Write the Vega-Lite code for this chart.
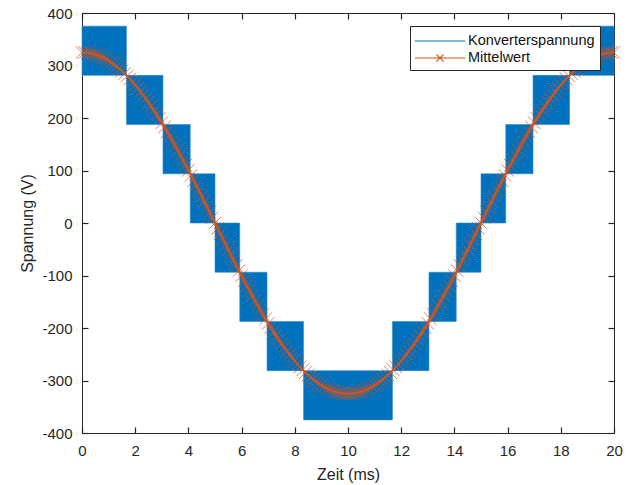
{
  "$schema": "https://vega.github.io/schema/vega-lite/v6.json",
  "width": 532,
  "height": 420,
  "autosize": {"type": "none"},
  "padding": {"left": 82, "top": 13, "right": 13, "bottom": 52},
  "background": "white",
  "config": {
    "font": "Liberation Sans",
    "view": {"stroke": "#262626", "strokeWidth": 1},
    "axis": {
      "domainColor": "#262626",
      "tickColor": "#262626",
      "labelColor": "#262626",
      "titleColor": "#262626",
      "labelFont": "Liberation Sans",
      "titleFont": "Liberation Sans",
      "labelFontSize": 15,
      "titleFontSize": 16,
      "titleFontWeight": "normal",
      "grid": false,
      "tickSize": -6,
      "domainWidth": 1,
      "tickWidth": 1.2,
      "labelExpr": "replace(datum.label, '\u2212', '-')"
    }
  },
  "resolve": {"axis": {"x": "independent", "y": "independent"}},
  "datasets": {
    "blocks": [
      {"t0": 0, "t1": 1.671, "lo": 281.25, "hi": 375},
      {"t0": 1.671, "t1": 3.044, "lo": 187.5, "hi": 281.25},
      {"t0": 3.044, "t1": 4.069, "lo": 93.75, "hi": 187.5},
      {"t0": 4.069, "t1": 5.0, "lo": 0, "hi": 93.75},
      {"t0": 5.0, "t1": 5.931, "lo": -93.75, "hi": 0},
      {"t0": 5.931, "t1": 6.956, "lo": -187.5, "hi": -93.75},
      {"t0": 6.956, "t1": 8.329, "lo": -281.25, "hi": -187.5},
      {"t0": 8.329, "t1": 11.671, "lo": -375, "hi": -281.25},
      {"t0": 11.671, "t1": 13.044, "lo": -281.25, "hi": -187.5},
      {"t0": 13.044, "t1": 14.069, "lo": -187.5, "hi": -93.75},
      {"t0": 14.069, "t1": 15.0, "lo": -93.75, "hi": 0},
      {"t0": 15.0, "t1": 15.931, "lo": 0, "hi": 93.75},
      {"t0": 15.931, "t1": 16.956, "lo": 93.75, "hi": 187.5},
      {"t0": 16.956, "t1": 18.329, "lo": 187.5, "hi": 281.25},
      {"t0": 18.329, "t1": 20, "lo": 281.25, "hi": 375}
    ],
    "mean": [
      {"t": 0, "u": 325}, {"t": 0.1, "u": 324.84}, {"t": 0.2, "u": 324.36}, {"t": 0.3, "u": 323.56}, {"t": 0.4, "u": 322.44},
      {"t": 0.5, "u": 321}, {"t": 0.6, "u": 319.24}, {"t": 0.7, "u": 317.17}, {"t": 0.8, "u": 314.79}, {"t": 0.9, "u": 312.1},
      {"t": 1.0, "u": 309.09}, {"t": 1.1, "u": 305.79}, {"t": 1.2, "u": 302.18}, {"t": 1.3, "u": 298.27}, {"t": 1.4, "u": 294.07},
      {"t": 1.5, "u": 289.58}, {"t": 1.6, "u": 284.8}, {"t": 1.7, "u": 279.74}, {"t": 1.8, "u": 274.41}, {"t": 1.9, "u": 268.8},
      {"t": 2.0, "u": 262.93}, {"t": 2.1, "u": 256.8}, {"t": 2.2, "u": 250.42}, {"t": 2.3, "u": 243.79}, {"t": 2.4, "u": 236.91},
      {"t": 2.5, "u": 229.81}, {"t": 2.6, "u": 222.48}, {"t": 2.7, "u": 214.93}, {"t": 2.8, "u": 207.16}, {"t": 2.9, "u": 199.19},
      {"t": 3.0, "u": 191.03}, {"t": 3.1, "u": 182.68}, {"t": 3.2, "u": 174.14}, {"t": 3.3, "u": 165.44}, {"t": 3.4, "u": 156.57},
      {"t": 3.5, "u": 147.55}, {"t": 3.6, "u": 138.38}, {"t": 3.7, "u": 129.07}, {"t": 3.8, "u": 119.64}, {"t": 3.9, "u": 110.09},
      {"t": 4.0, "u": 100.43}, {"t": 4.1, "u": 90.67}, {"t": 4.2, "u": 80.82}, {"t": 4.3, "u": 70.9}, {"t": 4.4, "u": 60.9},
      {"t": 4.5, "u": 50.84}, {"t": 4.6, "u": 40.73}, {"t": 4.7, "u": 30.59}, {"t": 4.8, "u": 20.41}, {"t": 4.9, "u": 10.21},
      {"t": 5.0, "u": 0}, {"t": 5.1, "u": -10.21}, {"t": 5.2, "u": -20.41}, {"t": 5.3, "u": -30.59}, {"t": 5.4, "u": -40.73},
      {"t": 5.5, "u": -50.84}, {"t": 5.6, "u": -60.9}, {"t": 5.7, "u": -70.9}, {"t": 5.8, "u": -80.82}, {"t": 5.9, "u": -90.67},
      {"t": 6.0, "u": -100.43}, {"t": 6.1, "u": -110.09}, {"t": 6.2, "u": -119.64}, {"t": 6.3, "u": -129.07}, {"t": 6.4, "u": -138.38},
      {"t": 6.5, "u": -147.55}, {"t": 6.6, "u": -156.57}, {"t": 6.7, "u": -165.44}, {"t": 6.8, "u": -174.14}, {"t": 6.9, "u": -182.68},
      {"t": 7.0, "u": -191.03}, {"t": 7.1, "u": -199.19}, {"t": 7.2, "u": -207.16}, {"t": 7.3, "u": -214.93}, {"t": 7.4, "u": -222.48},
      {"t": 7.5, "u": -229.81}, {"t": 7.6, "u": -236.91}, {"t": 7.7, "u": -243.79}, {"t": 7.8, "u": -250.42}, {"t": 7.9, "u": -256.8},
      {"t": 8.0, "u": -262.93}, {"t": 8.1, "u": -268.8}, {"t": 8.2, "u": -274.41}, {"t": 8.3, "u": -279.74}, {"t": 8.4, "u": -284.8},
      {"t": 8.5, "u": -289.58}, {"t": 8.6, "u": -294.07}, {"t": 8.7, "u": -298.27}, {"t": 8.8, "u": -302.18}, {"t": 8.9, "u": -305.79},
      {"t": 9.0, "u": -309.09}, {"t": 9.1, "u": -312.1}, {"t": 9.2, "u": -314.79}, {"t": 9.3, "u": -317.17}, {"t": 9.4, "u": -319.24},
      {"t": 9.5, "u": -321}, {"t": 9.6, "u": -322.44}, {"t": 9.7, "u": -323.56}, {"t": 9.8, "u": -324.36}, {"t": 9.9, "u": -324.84},
      {"t": 10.0, "u": -325}, {"t": 10.1, "u": -324.84}, {"t": 10.2, "u": -324.36}, {"t": 10.3, "u": -323.56}, {"t": 10.4, "u": -322.44},
      {"t": 10.5, "u": -321}, {"t": 10.6, "u": -319.24}, {"t": 10.7, "u": -317.17}, {"t": 10.8, "u": -314.79}, {"t": 10.9, "u": -312.1},
      {"t": 11.0, "u": -309.09}, {"t": 11.1, "u": -305.79}, {"t": 11.2, "u": -302.18}, {"t": 11.3, "u": -298.27}, {"t": 11.4, "u": -294.07},
      {"t": 11.5, "u": -289.58}, {"t": 11.6, "u": -284.8}, {"t": 11.7, "u": -279.74}, {"t": 11.8, "u": -274.41}, {"t": 11.9, "u": -268.8},
      {"t": 12.0, "u": -262.93}, {"t": 12.1, "u": -256.8}, {"t": 12.2, "u": -250.42}, {"t": 12.3, "u": -243.79}, {"t": 12.4, "u": -236.91},
      {"t": 12.5, "u": -229.81}, {"t": 12.6, "u": -222.48}, {"t": 12.7, "u": -214.93}, {"t": 12.8, "u": -207.16}, {"t": 12.9, "u": -199.19},
      {"t": 13.0, "u": -191.03}, {"t": 13.1, "u": -182.68}, {"t": 13.2, "u": -174.14}, {"t": 13.3, "u": -165.44}, {"t": 13.4, "u": -156.57},
      {"t": 13.5, "u": -147.55}, {"t": 13.6, "u": -138.38}, {"t": 13.7, "u": -129.07}, {"t": 13.8, "u": -119.64}, {"t": 13.9, "u": -110.09},
      {"t": 14.0, "u": -100.43}, {"t": 14.1, "u": -90.67}, {"t": 14.2, "u": -80.82}, {"t": 14.3, "u": -70.9}, {"t": 14.4, "u": -60.9},
      {"t": 14.5, "u": -50.84}, {"t": 14.6, "u": -40.73}, {"t": 14.7, "u": -30.59}, {"t": 14.8, "u": -20.41}, {"t": 14.9, "u": -10.21},
      {"t": 15.0, "u": 0}, {"t": 15.1, "u": 10.21}, {"t": 15.2, "u": 20.41}, {"t": 15.3, "u": 30.59}, {"t": 15.4, "u": 40.73},
      {"t": 15.5, "u": 50.84}, {"t": 15.6, "u": 60.9}, {"t": 15.7, "u": 70.9}, {"t": 15.8, "u": 80.82}, {"t": 15.9, "u": 90.67},
      {"t": 16.0, "u": 100.43}, {"t": 16.1, "u": 110.09}, {"t": 16.2, "u": 119.64}, {"t": 16.3, "u": 129.07}, {"t": 16.4, "u": 138.38},
      {"t": 16.5, "u": 147.55}, {"t": 16.6, "u": 156.57}, {"t": 16.7, "u": 165.44}, {"t": 16.8, "u": 174.14}, {"t": 16.9, "u": 182.68},
      {"t": 17.0, "u": 191.03}, {"t": 17.1, "u": 199.19}, {"t": 17.2, "u": 207.16}, {"t": 17.3, "u": 214.93}, {"t": 17.4, "u": 222.48},
      {"t": 17.5, "u": 229.81}, {"t": 17.6, "u": 236.91}, {"t": 17.7, "u": 243.79}, {"t": 17.8, "u": 250.42}, {"t": 17.9, "u": 256.8},
      {"t": 18.0, "u": 262.93}, {"t": 18.1, "u": 268.8}, {"t": 18.2, "u": 274.41}, {"t": 18.3, "u": 279.74}, {"t": 18.4, "u": 284.8},
      {"t": 18.5, "u": 289.58}, {"t": 18.6, "u": 294.07}, {"t": 18.7, "u": 298.27}, {"t": 18.8, "u": 302.18}, {"t": 18.9, "u": 305.79},
      {"t": 19.0, "u": 309.09}, {"t": 19.1, "u": 312.1}, {"t": 19.2, "u": 314.79}, {"t": 19.3, "u": 317.17}, {"t": 19.4, "u": 319.24},
      {"t": 19.5, "u": 321}, {"t": 19.6, "u": 322.44}, {"t": 19.7, "u": 323.56}, {"t": 19.8, "u": 324.36}, {"t": 19.9, "u": 324.84},
      {"t": 20.0, "u": 325}
    ],
    "series": [
      {"s": "Konverterspannung"},
      {"s": "Mittelwert"}
    ]
  },
  "layer": [
    {
      "data": {"name": "blocks"},
      "mark": {"type": "rect", "color": "#0072BD", "stroke": "#2f8bd0", "strokeWidth": 0.6},
      "encoding": {
        "x": {
          "field": "t0", "type": "quantitative",
          "scale": {"domain": [0, 20], "nice": false, "zero": false},
          "axis": {"orient": "bottom", "title": "Zeit (ms)", "values": [0, 2, 4, 6, 8, 10, 12, 14, 16, 18, 20], "labelPadding": 16, "titlePadding": 8, "labelFlush": false}
        },
        "x2": {"field": "t1"},
        "y": {
          "field": "lo", "type": "quantitative",
          "scale": {"domain": [-400, 400], "nice": false, "zero": false},
          "axis": {"orient": "left", "title": "Spannung (V)", "values": [-400, -300, -200, -100, 0, 100, 200, 300, 400], "labelPadding": 16, "titlePadding": 6, "labelFlush": false}
        },
        "y2": {"field": "hi"}
      }
    },
    {
      "data": {"name": "mean"},
      "mark": {"type": "line", "color": "#D95319", "strokeWidth": 2},
      "encoding": {
        "x": {
          "field": "t", "type": "quantitative",
          "axis": {"orient": "top", "labels": false, "title": null, "values": [0, 2, 4, 6, 8, 10, 12, 14, 16, 18, 20]}
        },
        "y": {
          "field": "u", "type": "quantitative",
          "axis": {"orient": "right", "labels": false, "title": null, "values": [-400, -300, -200, -100, 0, 100, 200, 300, 400]}
        }
      }
    },
    {
      "data": {"name": "mean"},
      "mark": {"type": "point", "shape": "M-1,-1L1,1M-1,1L1,-1", "filled": false, "stroke": "#D95319", "strokeWidth": 1, "opacity": 0.7, "size": 160},
      "encoding": {
        "x": {"field": "t", "type": "quantitative", "axis": null},
        "y": {"field": "u", "type": "quantitative", "axis": null}
      }
    },
    {
      "data": {"name": "series"},
      "mark": {"type": "point", "filled": false, "opacity": 0, "strokeWidth": 1},
      "encoding": {
        "color": {
          "field": "s", "type": "nominal",
          "scale": {"domain": ["Konverterspannung", "Mittelwert"], "range": ["#0072BD", "#D95319"]},
          "legend": {
            "title": null, "orient": "none", "legendX": 328, "legendY": 13,
            "strokeColor": "#262626", "fillColor": "white", "padding": 5,
            "labelFont": "Liberation Sans", "labelFontSize": 14.5, "labelColor": "#111111",
            "symbolSize": 324, "symbolOpacity": 1, "symbolStrokeWidth": 1.2,
            "symbolOffset": 15, "labelOffset": 18, "rowPadding": 0
          }
        },
        "shape": {
          "field": "s", "type": "nominal",
          "scale": {"domain": ["Konverterspannung", "Mittelwert"], "range": ["M-2.8,0L2.8,0", "M-2.8,0L2.8,0M-0.4,-0.4L0.4,0.4M-0.4,0.4L0.4,-0.4"]},
          "legend": {
            "title": null, "orient": "none", "legendX": 328, "legendY": 13,
            "strokeColor": "#262626", "fillColor": "white", "padding": 5,
            "labelFont": "Liberation Sans", "labelFontSize": 14.5, "labelColor": "#111111",
            "symbolSize": 324, "symbolOpacity": 1, "symbolStrokeWidth": 1.2,
            "symbolOffset": 15, "labelOffset": 18, "rowPadding": 0
          }
        }
      }
    }
  ]
}
